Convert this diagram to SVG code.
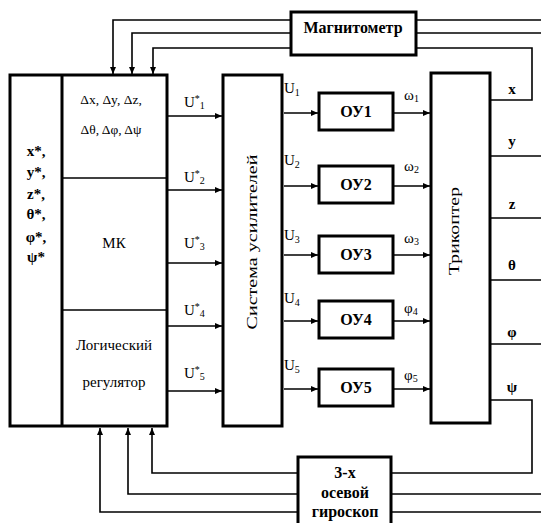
<svg xmlns="http://www.w3.org/2000/svg" width="541" height="523" viewBox="0 0 541 523" font-family="Liberation Serif, serif">
<defs>
<marker id="ah" markerWidth="7" markerHeight="6" refX="7" refY="3" orient="auto" markerUnits="userSpaceOnUse">
<path d="M0,0 L7,3 L0,6 z" fill="#000"/>
</marker>
<style>
.dg-blk{fill:#fff;stroke:#000;stroke-width:3}
.dg-thin{fill:none;stroke:#000;stroke-width:1.5}
.dg-con{fill:none;stroke:#000;stroke-width:1.6}
.dg-arr{fill:none;stroke:#000;stroke-width:1.6;marker-end:url(#ah)}
.dg-t{font-family:"Liberation Serif","Times New Roman",serif;font-size:15px;fill:#000}
.dg-sm{font-family:"Liberation Serif","Times New Roman",serif;font-size:13.5px;fill:#000}
.dg-b{font-family:"Liberation Serif","Times New Roman",serif;font-size:16px;font-weight:bold;fill:#000}
.dg-sub{font-size:10px}
</style>
</defs>
<rect width="541" height="523" fill="#fff"/>

<g id="connectors">
<path class="dg-con" d="M541,20 H416"/>
<path class="dg-arr" d="M291,20 H113 V74"/>
<path class="dg-con" d="M541,33 H416"/>
<path class="dg-arr" d="M291,33 H132 V74"/>
<path class="dg-con" d="M490,100 H532 V48 H416"/>
<path class="dg-arr" d="M291,48 H153 V74"/>
<path class="dg-con" d="M490,400 H532 V473 H391"/>
<path class="dg-arr" d="M298,473 H152 V428"/>
<path class="dg-con" d="M541,494 H391"/>
<path class="dg-arr" d="M298,494 H128 V428"/>
<path class="dg-con" d="M541,512 H391"/>
<path class="dg-arr" d="M298,512 H100 V428"/>
<path class="dg-con" d="M490,156 H541"/>
<path class="dg-con" d="M490,218 H541"/>
<path class="dg-con" d="M490,280 H541"/>
<path class="dg-con" d="M490,344 H541"/>
<path class="dg-arr" d="M168,116 H222"/>
<path class="dg-arr" d="M168,190 H222"/>
<path class="dg-arr" d="M168,263 H222"/>
<path class="dg-arr" d="M168,326 H222"/>
<path class="dg-arr" d="M168,391 H222"/>
<path class="dg-arr" d="M284,113 H318"/>
<path class="dg-arr" d="M284,186 H318"/>
<path class="dg-arr" d="M284,255 H318"/>
<path class="dg-arr" d="M284,321 H318"/>
<path class="dg-arr" d="M284,389 H318"/>
<path class="dg-arr" d="M394,113 H430"/>
<path class="dg-arr" d="M394,186 H430"/>
<path class="dg-arr" d="M394,255 H430"/>
<path class="dg-arr" d="M394,321 H430"/>
<path class="dg-arr" d="M394,389 H430"/>
</g>

<g id="mk">
<rect class="dg-blk" x="10" y="75" width="157" height="351"/>
<line x1="62" y1="75" x2="62" y2="426" stroke="#000" stroke-width="3"/>
<line class="dg-thin" x1="62" y1="178" x2="167" y2="178"/>
<line class="dg-thin" x1="62" y1="310" x2="167" y2="310"/>
<text class="dg-t" x="36" y="156" text-anchor="middle" font-weight="bold" font-size="14">x*,</text>
<text class="dg-t" x="36" y="177" text-anchor="middle" font-weight="bold" font-size="14">y*,</text>
<text class="dg-t" x="36" y="199" text-anchor="middle" font-weight="bold" font-size="14">z*,</text>
<text class="dg-t" x="36" y="219" text-anchor="middle" font-weight="bold" font-size="14">θ*,</text>
<text class="dg-t" x="36" y="242" text-anchor="middle" font-weight="bold" font-size="14">φ*,</text>
<text class="dg-t" x="36" y="262" text-anchor="middle" font-weight="bold" font-size="14">ψ*</text>
<text class="dg-sm" x="111" y="104" text-anchor="middle">Δx, Δy, Δz,</text>
<text class="dg-sm" x="111" y="134" text-anchor="middle">Δθ, Δφ, Δψ</text>
<text class="dg-t" x="114" y="248" text-anchor="middle" font-size="18">МК</text>
<text class="dg-t" x="114" y="350" text-anchor="middle" font-size="16">Логический</text>
<text class="dg-t" x="114" y="387" text-anchor="middle" font-size="16">регулятор</text>
</g>

<g id="ustar-labels">
<text class="dg-t" x="184" y="107">U<tspan class="dg-sub" dy="-5">*</tspan><tspan class="dg-sub" dy="7">1</tspan></text>
<text class="dg-t" x="184" y="182">U<tspan class="dg-sub" dy="-5">*</tspan><tspan class="dg-sub" dy="7">2</tspan></text>
<text class="dg-t" x="184" y="248">U<tspan class="dg-sub" dy="-5">*</tspan><tspan class="dg-sub" dy="7">3</tspan></text>
<text class="dg-t" x="184" y="315">U<tspan class="dg-sub" dy="-5">*</tspan><tspan class="dg-sub" dy="7">4</tspan></text>
<text class="dg-t" x="184" y="378">U<tspan class="dg-sub" dy="-5">*</tspan><tspan class="dg-sub" dy="7">5</tspan></text>
</g>

<g id="amp">
<rect class="dg-blk" x="223" y="75" width="59" height="351"/>
<text class="dg-t" font-size="15" x="0" y="0" text-anchor="middle" transform="translate(257,242) rotate(-90)" textLength="175" lengthAdjust="spacingAndGlyphs">Система усилителей</text>
</g>

<g id="u-labels">
<text class="dg-t" x="284" y="93">U<tspan class="dg-sub" dy="3">1</tspan></text>
<text class="dg-t" x="284" y="165">U<tspan class="dg-sub" dy="3">2</tspan></text>
<text class="dg-t" x="284" y="240">U<tspan class="dg-sub" dy="3">3</tspan></text>
<text class="dg-t" x="284" y="303">U<tspan class="dg-sub" dy="3">4</tspan></text>
<text class="dg-t" x="284" y="370">U<tspan class="dg-sub" dy="3">5</tspan></text>
</g>

<g id="ou1"><rect class="dg-blk" x="319" y="93" width="74" height="37"/><text class="dg-b" x="356" y="117" text-anchor="middle">ОУ1</text></g>
<g id="ou2"><rect class="dg-blk" x="319" y="166" width="74" height="37"/><text class="dg-b" x="356" y="190" text-anchor="middle">ОУ2</text></g>
<g id="ou3"><rect class="dg-blk" x="319" y="236" width="74" height="37"/><text class="dg-b" x="356" y="260" text-anchor="middle">ОУ3</text></g>
<g id="ou4"><rect class="dg-blk" x="319" y="301" width="74" height="37"/><text class="dg-b" x="356" y="325" text-anchor="middle">ОУ4</text></g>
<g id="ou5"><rect class="dg-blk" x="319" y="369" width="74" height="37"/><text class="dg-b" x="356" y="393" text-anchor="middle">ОУ5</text></g>

<g id="w-labels">
<text class="dg-t" x="404" y="100">ω<tspan class="dg-sub" dy="2">1</tspan></text>
<text class="dg-t" x="404" y="171">ω<tspan class="dg-sub" dy="2">2</tspan></text>
<text class="dg-t" x="404" y="243">ω<tspan class="dg-sub" dy="2">3</tspan></text>
<text class="dg-t" x="404" y="313">φ<tspan class="dg-sub" dy="2">4</tspan></text>
<text class="dg-t" x="404" y="380">φ<tspan class="dg-sub" dy="2">5</tspan></text>
</g>

<g id="trikopter">
<rect class="dg-blk" x="431" y="73" width="59" height="350"/>
<text class="dg-t" font-size="15" x="0" y="0" text-anchor="middle" transform="translate(459,231) rotate(-90)" textLength="88" lengthAdjust="spacingAndGlyphs">Трикоптер</text>
</g>

<g id="out-labels">
<text class="dg-t" x="512" y="94" text-anchor="middle" font-weight="bold">x</text>
<text class="dg-t" x="512" y="146" text-anchor="middle" font-weight="bold">y</text>
<text class="dg-t" x="512" y="209" text-anchor="middle" font-weight="bold">z</text>
<text class="dg-t" x="512" y="270" text-anchor="middle" font-weight="bold">θ</text>
<text class="dg-t" x="512" y="337" text-anchor="middle" font-weight="bold">φ</text>
<text class="dg-t" x="512" y="392" text-anchor="middle" font-weight="bold">ψ</text>
</g>

<g id="magnetometer">
<rect class="dg-blk" x="291" y="12" width="125" height="43" stroke-width="2.5"/>
<text class="dg-b" x="353" y="33" text-anchor="middle">Магнитометр</text>
</g>

<g id="gyroscope">
<rect class="dg-blk" x="298" y="457" width="93" height="75" stroke-width="2.5"/>
<text class="dg-b" x="345" y="478" text-anchor="middle">3-х</text>
<text class="dg-b" x="345" y="498" text-anchor="middle">осевой</text>
<text class="dg-b" x="345" y="517" text-anchor="middle">гироскоп</text>
</g>
</svg>
